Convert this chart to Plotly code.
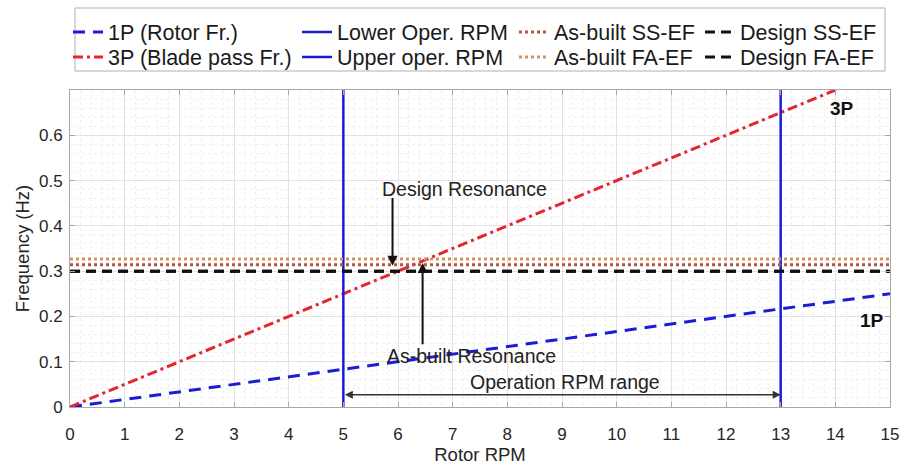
import plotly.graph_objects as go

# ---------------- data ----------------
rpm_ends = [0, 15]
freq_1p = [0, 0.25]          # 1P (rotor frequency)
freq_3p = [0, 0.75]          # 3P (blade passing frequency)
rpm_lower = 5
rpm_upper = 13
freq_span = [0, 0.7]
asbuilt_ss = 0.314
asbuilt_fa = 0.327
design_ss = 0.300
design_fa = 0.300
x_ticks = list(range(0, 16))
y_ticks = [0, 0.1, 0.2, 0.3, 0.4, 0.5, 0.6]
y_tick_labels = ["0", "0.1", "0.2", "0.3", "0.4", "0.5", "0.6"]

# ---------------- layout helpers ----------------
W, H = 903, 465
PL, PR, PT, PB = 70, 890, 90, 407  # plot area in pixels


def px_x(p):
    return (p - PL) / (PR - PL)


def px_y(p):
    return (PB - p) / (PB - PT)


FONT = "Liberation Sans, Arial, sans-serif"
BLUE = "#1c1cd6"
RED = "#e3262f"

fig = go.Figure()

traces = [
    dict(name="1P (Rotor Fr.)", x=rpm_ends, y=freq_1p, color=BLUE, dash="12px,8px", width=3, lg="legend", pos=(108, 32)),
    dict(name="3P (Blade pass Fr.)", x=rpm_ends, y=freq_3p, color=RED, dash="10px,4px,3px,4px", width=3, lg="legend2", pos=(108, 57)),
    dict(name="Lower Oper. RPM", x=[rpm_lower, rpm_lower], y=freq_span, color=BLUE, dash="solid", width=2.5, lg="legend3", pos=(337, 32)),
    dict(name="Upper oper. RPM", x=[rpm_upper, rpm_upper], y=freq_span, color=BLUE, dash="solid", width=2.5, lg="legend4", pos=(337, 57)),
    dict(name="As-built SS-EF", x=rpm_ends, y=[asbuilt_ss, asbuilt_ss], color="#b9553f", dash="3px,3px", width=3, lg="legend5", pos=(554, 32)),
    dict(name="As-built FA-EF", x=rpm_ends, y=[asbuilt_fa, asbuilt_fa], color="#cf9360", dash="3px,3px", width=3, lg="legend6", pos=(554, 57)),
    dict(name="Design SS-EF", x=rpm_ends, y=[design_ss, design_ss], color="#111111", dash="10px,6px", width=3, lg="legend7", pos=(740, 32)),
    dict(name="Design FA-EF", x=rpm_ends, y=[design_fa, design_fa], color="#111111", dash="10px,6px", width=3, lg="legend8", pos=(740, 57)),
]

legend_layouts = {}
for t in traces:
    fig.add_trace(go.Scatter(
        x=t["x"], y=t["y"], mode="lines", name=t["name"],
        line=dict(color=t["color"], dash=t["dash"], width=t["width"]),
        legend=t["lg"], showlegend=True,
    ))
    tx, ty = t["pos"]
    legend_layouts[t["lg"]] = dict(
        x=px_x(tx - 40), y=px_y(ty), xanchor="left", yanchor="middle",
        bgcolor="rgba(0,0,0,0)", borderwidth=0,
        font=dict(family=FONT, size=21.5, color="#1a1a1a"),
        itemwidth=30,
    )

# legend frame
fig.add_shape(type="rect", xref="paper", yref="paper",
              x0=px_x(75), x1=px_x(885), y0=px_y(71), y1=px_y(8),
              line=dict(color="#b0b0b0", width=1), fillcolor="white", layer="below")

ann_font = dict(family=FONT, size=19.5, color="#222222")

annotations = [
    # Design resonance
    dict(x=7.22, y=0.481, text="Design Resonance", showarrow=False, font=ann_font),
    dict(x=5.9, y=0.312, ax=5.9, ay=0.465, axref="x", ayref="y", text="", showarrow=True,
         arrowhead=2, arrowsize=1, arrowwidth=2, arrowcolor="#111111"),
    # As-built resonance
    dict(x=7.35, y=0.112, text="As-built Resonance", showarrow=False, font=ann_font),
    dict(x=6.45, y=0.318, ax=6.45, ay=0.135, axref="x", ayref="y", text="", showarrow=True,
         arrowhead=2, arrowsize=1, arrowwidth=2, arrowcolor="#111111"),
    # Operation range
    dict(x=9.05, y=0.056, text="Operation RPM range", showarrow=False, font=ann_font),
    dict(x=rpm_upper, y=0.027, ax=rpm_lower, ay=0.027, axref="x", ayref="y", text="",
         showarrow=True, arrowhead=2, startarrowhead=2, arrowside="end+start",
         arrowsize=1, arrowwidth=1.6, arrowcolor="#333333"),
    # Labels
    dict(x=14.12, y=0.66, text="<b>3P</b>", showarrow=False,
         font=dict(family=FONT, size=19, color="#111111")),
    dict(x=14.67, y=0.19, text="<b>1P</b>", showarrow=False,
         font=dict(family=FONT, size=19, color="#111111")),
]

axis_common = dict(
    showline=True, linecolor="#a8a8a8", linewidth=1, mirror="ticks",
    ticks="inside", ticklen=5, tickcolor="#a8a8a8", automargin=False,
    showgrid=True, gridcolor="#e2e2e2", gridwidth=1, zeroline=False,
    tickfont=dict(family=FONT, size=17, color="#262626"),
    title_font=dict(family=FONT, size=18.5, color="#262626"),
)

fig.update_layout(
    width=W, height=H,
    margin=dict(l=PL, r=W - PR, t=PT, b=H - PB, autoexpand=False),
    paper_bgcolor="white", plot_bgcolor="white",
    showlegend=True,
    annotations=annotations,
    xaxis=dict(range=[0, 15], tickvals=x_ticks, title=dict(text="Rotor RPM", standoff=8),
               ticklabelstandoff=12,
               minor=dict(dtick=0.2, showgrid=True, gridcolor="#efefef", griddash="dot", ticks=""),
               **axis_common),
    yaxis=dict(range=freq_span, tickvals=y_ticks, ticktext=y_tick_labels,
               title=dict(text="Frequency (Hz)", standoff=4), ticklabelstandoff=3,
               minor=dict(dtick=0.02, showgrid=True, gridcolor="#efefef", griddash="dot", ticks=""),
               **axis_common),
    **legend_layouts,
)

fig.write_html("out.html")
